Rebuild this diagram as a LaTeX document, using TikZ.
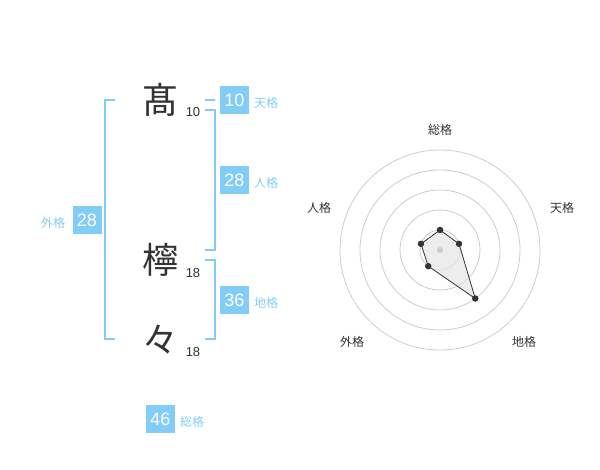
\documentclass[tikz,border=0pt]{standalone}
\usepackage{fontspec}
\setmainfont{Liberation Sans}
\newfontfamily\cjk{Noto Sans CJK JP}
\definecolor{kakublue}{HTML}{82CDF8}
\definecolor{inkgray}{HTML}{333333}
\definecolor{ringgray}{HTML}{CCCCCC}
\definecolor{areagray}{HTML}{E6E6E6}

\tikzset{
  numbox/.style={fill=kakublue, text=white, minimum width=29pt, minimum height=28pt, inner sep=0pt, font=\fontsize{18}{18}\selectfont},
  kakulabel/.style={text=kakublue, inner sep=0pt, font=\cjk\fontsize{12}{12}\selectfont},
  bigchar/.style={text=inkgray, inner sep=0pt, font=\cjk\fontsize{36}{36}\selectfont},
  strokes/.style={text=inkgray, inner sep=0pt, font=\fontsize{13}{13}\selectfont},
  bracket/.style={draw=kakublue, line width=2pt},
  axislabel/.style={text=inkgray, inner sep=0pt, font=\cjk\fontsize{12}{12}\selectfont},
  dot/.style={circle, fill=inkgray, inner sep=0pt, minimum size=6.5pt},
}

\begin{document}
\begin{tikzpicture}[x=1pt,y=-1pt]
\useasboundingbox (0,0) rectangle (600,470);

% Name characters and stroke counts
\node[bigchar] (c1) at (160,100) {髙};
\node[strokes] (s1) at (193,112) {10};
\node[bigchar] (c2) at (160,260) {檸};
\node[strokes] (s2) at (193,273) {18};
\node[bigchar] (c3) at (160,340) {々};
\node[strokes] (s3) at (193,352) {18};

% Brackets
\draw[bracket] (115,100) -- (105,100) -- (105,339) -- (115,339);
\draw[bracket] (205,100) -- (215,100);
\draw[bracket] (205,110) -- (215,110) -- (215,250) -- (205,250);
\draw[bracket] (205,260) -- (215,260) -- (215,339) -- (205,339);

% Boxes and labels
\node[numbox] (ten) at (234.5,100) {10};
\node[kakulabel] (tenL) at (266,103) {天格};
\node[numbox] (jin) at (234.5,180) {28};
\node[kakulabel] (jinL) at (266,183) {人格};
\node[numbox] (gai) at (87,220) {28};
\node[kakulabel] (gaiL) at (53,223) {外格};
\node[numbox] (chi) at (234.5,300) {36};
\node[kakulabel] (chiL) at (266,303) {地格};
\node[numbox] (sou) at (160.5,419) {46};
\node[kakulabel] (souL) at (192,422) {総格};

% Radar chart
\begin{scope}[shift={(440,250)}]
  \foreach \r in {20,40,60,80,100}
    \draw[ringgray, line width=0.8pt] (0,0) circle[radius=\r pt];
  \coordinate (pSou) at (-90:20);
  \coordinate (pTen) at (-18:20);
  \coordinate (pChi) at (54:60);
  \coordinate (pGai) at (126:20);
  \coordinate (pJin) at (198:20);
  \fill[areagray, fill opacity=0.7] (pSou) -- (pTen) -- (pChi) -- (pGai) -- (pJin) -- cycle;
  \fill[ringgray] (0,0) circle[radius=3pt];
  \draw[inkgray, line width=0.8pt] (pSou) -- (pTen) -- (pChi) -- (pGai) -- (pJin) -- cycle;
  \foreach \p in {pSou,pTen,pChi,pGai,pJin}
    \node[dot] at (\p) {};
\end{scope}
\node[axislabel] (axSou) at (440,130) {総格};
\node[axislabel] (axTen) at (562,208) {天格};
\node[axislabel] (axChi) at (524,342) {地格};
\node[axislabel] (axGai) at (352,342) {外格};
\node[axislabel] (axJin) at (319,208) {人格};

\end{tikzpicture}
\end{document}
